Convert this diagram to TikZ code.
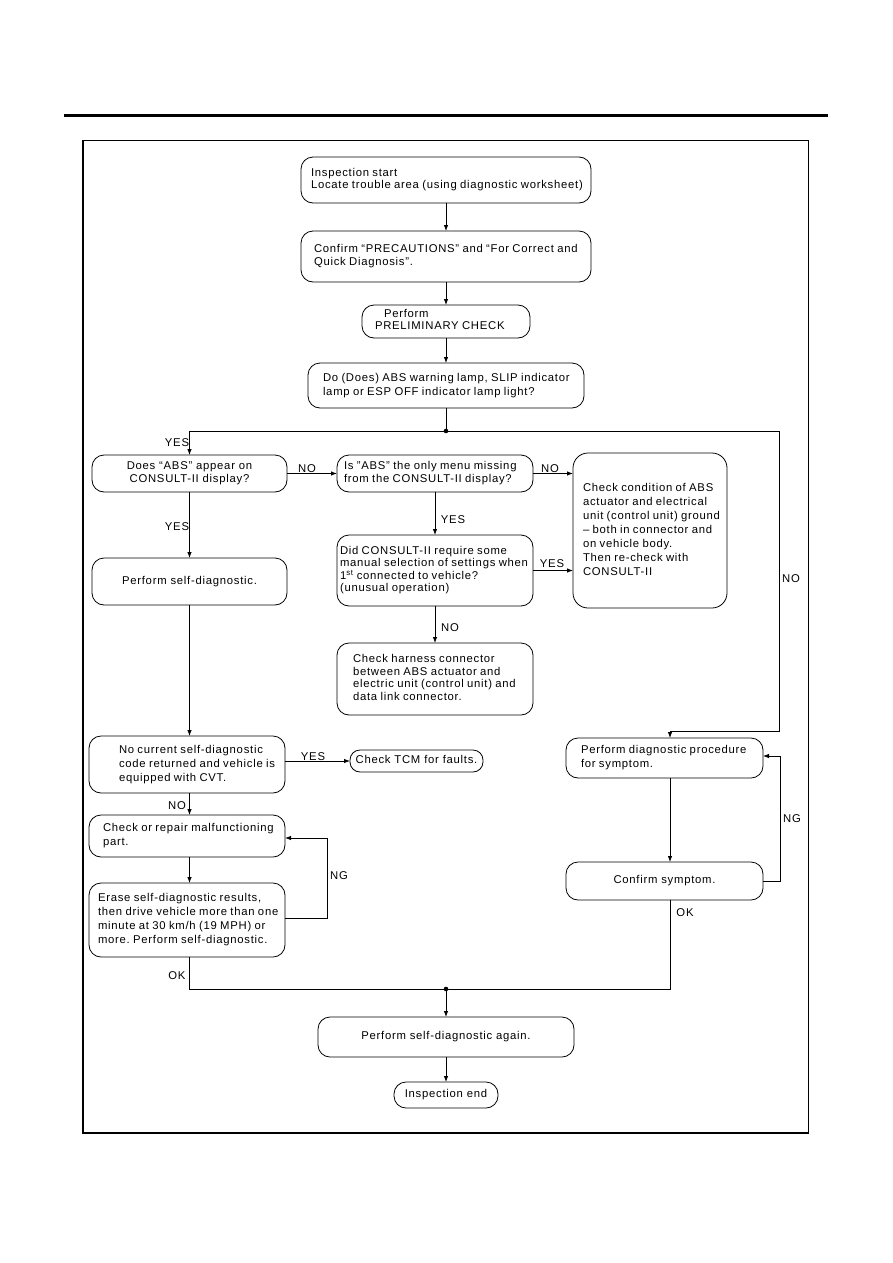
\documentclass[tikz,border=0pt]{standalone}
\usepackage{fontspec}
\setmainfont{Liberation Sans}[LetterSpace=6.5]
\usetikzlibrary{arrows.meta}
\frenchspacing
\newcommand\lblk[2][13.5]{{\fontsize{11.3}{#1}\selectfont\begin{tabular}{@{}l@{}}#2\end{tabular}}}
\newcommand\cblk[2][13.5]{{\fontsize{11.3}{#1}\selectfont\begin{tabular}{@{}c@{}}#2\end{tabular}}}
\tikzset{
  bx/.style={draw, line width=0.8pt, rounded corners=12pt, inner ysep=0pt, outer sep=0pt},
  lbx/.style 2 args={bx, align=left, text width=#1, inner xsep=#2},
  arr/.style={line width=0.8pt, -{Latex[length=6pt,width=4.5pt]}},
  ln/.style={line width=0.8pt},
  lab/.style={font=\fontsize{11.3}{13}\selectfont, inner sep=0pt},
}
\begin{document}
\begin{tikzpicture}[x=1pt,y=-1pt]
\useasboundingbox (0,0) rectangle (893,1263);
% page rule and frame
\draw[line width=2.5pt] (64,115.5) -- (828,115.5);
\draw[line width=1pt] (83,140) rectangle (808,1133);
\draw[line width=2.4pt] (83,140) -- (83,1133) -- (808,1133);

% nodes
\node[lbx={270pt}{10pt}, minimum height=46pt] (n1) at (446,180)
  {\lblk[12]{Inspection start\\Locate trouble area (using diagnostic worksheet)}};
\node[lbx={264pt}{13pt}, minimum height=51pt] (n2) at (446,256.5)
  {\lblk[13]{Confirm “PRECAUTIONS\symbol{34} and “For Correct and\\Quick Diagnosis\symbol{34}.}};
\node[lbx={142pt}{13pt}, minimum height=33pt] (n3) at (446,321.5)
  {\lblk[12]{\hspace*{9pt}Perform\\PRELIMINARY CHECK}};
\node[lbx={246pt}{15pt}, minimum height=45pt] (n4) at (446,385.5)
  {\lblk[14]{Do (Does) ABS warning lamp, SLIP indicator\\lamp or ESP OFF indicator lamp light?}};
\node[bx, minimum width=195pt, minimum height=37pt] (n5) at (189.5,473.5)
  {\cblk[13]{Does “ABS” appear on\\CONSULT-II display?}};
\node[lbx={182pt}{7pt}, minimum height=37pt] (n6) at (435,473.5)
  {\lblk[13]{Is \symbol{34}ABS\symbol{34} the only menu missing\\from the CONSULT-II display?}};
\node[lbx={134pt}{10pt}, minimum height=155pt, rounded corners=15pt] (n7) at (650,530.5)
  {\lblk[14]{Check condition of ABS\\actuator and electrical\\unit (control unit) ground\\– both in connector and\\on vehicle body.\\Then re-check with\\CONSULT-II}};
\node[bx, minimum width=195pt, minimum height=47pt] (n8) at (189.5,581.5)
  {\cblk{Perform self-diagnostic.}};
\node[lbx={190pt}{3pt}, minimum height=71pt] (n9) at (435,570.5)
  {\lblk[12]{Did CONSULT-II require some\\manual selection of settings when\\1\textsuperscript{st} connected to vehicle?\\(unusual operation)}};
\node[lbx={164pt}{16pt}, minimum height=72pt] (n10) at (435,679)
  {\lblk[12.5]{Check harness connector\\between ABS actuator and\\electric unit (control unit) and\\data link connector.}};
\node[lbx={136pt}{30pt}, minimum height=57pt] (n11) at (187,764.5)
  {\lblk[14]{No current self-diagnostic\\code returned and vehicle is\\equipped with CVT.}};
\node[bx, minimum width=133pt, minimum height=22pt, rounded corners=10pt] (n12) at (416.5,761)
  {\cblk{Check TCM for faults.}};
\node[lbx={168pt}{14pt}, minimum height=42pt] (n13) at (187,836)
  {\lblk[14]{Check or repair malfunctioning\\part.}};
\node[lbx={178pt}{9pt}, minimum height=74pt] (n14) at (187,920)
  {\lblk[14]{Erase self-diagnostic results,\\then drive vehicle more than one\\minute at 30 km/h (19 MPH) or\\more. Perform self-diagnostic.}};
\node[lbx={167pt}{15pt}, minimum height=40pt] (n15) at (664.5,758)
  {\lblk[14]{Perform diagnostic procedure\\for symptom.}};
\node[bx, minimum width=197pt, minimum height=38pt] (n16) at (664.5,881)
  {\cblk{Confirm symptom.}};
\node[bx, minimum width=256pt, minimum height=40pt] (n17) at (446,1037)
  {\cblk{Perform self-diagnostic again.}};
\node[bx, minimum width=104pt, minimum height=26pt] (n18) at (446,1095)
  {\cblk{Inspection end}};

% coordinates
\coordinate (j1) at (446,431);
\coordinate (j2) at (446,989);
\coordinate (r1) at (779,731);
\coordinate (r2) at (670,731);
\coordinate (g1) at (327,918);
\coordinate (g2) at (327,838);
\coordinate (g3) at (780,881);
\coordinate (g4) at (780,756);

% connectors
\draw[arr] (n1.south) -- (n2.north);
\draw[arr] (n2.south) -- (n3.north);
\draw[arr] (n3.south) -- (n4.north);
\draw[ln] (n4.south) -- (j1);
\fill (j1) circle (2.3pt);
\draw[arr] (j1) -| (n5.north);
\draw[arr] (j1) -| (r1) -- (r2) -- (r2 |- n15.north);
\draw[arr] (n5.east) -- (n6.west);
\draw[arr] (n6.east) -- (n6.east -| n7.west);
\draw[arr] (n5.south) -- (n8.north);
\draw[arr] (n6.south) -- (n9.north);
\draw[arr] (n9.east) -- (n9.east -| n7.west);
\draw[arr] (n9.south) -- (n10.north);
\draw[arr] (n8.south) -- (n8.south |- n11.north);
\draw[arr] (n11.east |- n12.west) -- (n12.west);
\draw[arr] (n11.south -| n8.south) -- (n13.north -| n8.south);
\draw[arr] (n13.south -| n8.south) -- (n14.north -| n8.south);
\draw[arr] (n14.east |- g1) -- (g1) -- (g2) -- (g2 -| n13.east);
\draw[arr] (n15.south -| r2) -- (n16.north -| r2);
\draw[arr] (n16.east) -- (g3) -- (g4) -- (g4 -| n15.east);
\draw[ln] (n14.south -| n8.south) |- (j2);
\draw[ln] (n16.south -| r2) |- (j2);
\fill (j2) circle (2.3pt);
\draw[arr] (j2) -- (n17.north);
\draw[arr] (n17.south) -- (n18.north);

% labels
\node[lab] (l1) at (177,443) {YES};
\node[lab] (l2) at (307,469) {NO};
\node[lab] (l3) at (550,469) {NO};
\node[lab] (l4) at (177,527) {YES};
\node[lab] (l5) at (453,520) {YES};
\node[lab] (l6) at (552,564) {YES};
\node[lab] (l7) at (450,628) {NO};
\node[lab] (l8) at (791,579) {NO};
\node[lab] (l9) at (313,757) {YES};
\node[lab] (l10) at (177,806) {NO};
\node[lab] (l11) at (339,876) {NG};
\node[lab] (l12) at (792,819) {NG};
\node[lab] (l13) at (685,913) {OK};
\node[lab] (l14) at (177,976) {OK};
\end{tikzpicture}
\end{document}
